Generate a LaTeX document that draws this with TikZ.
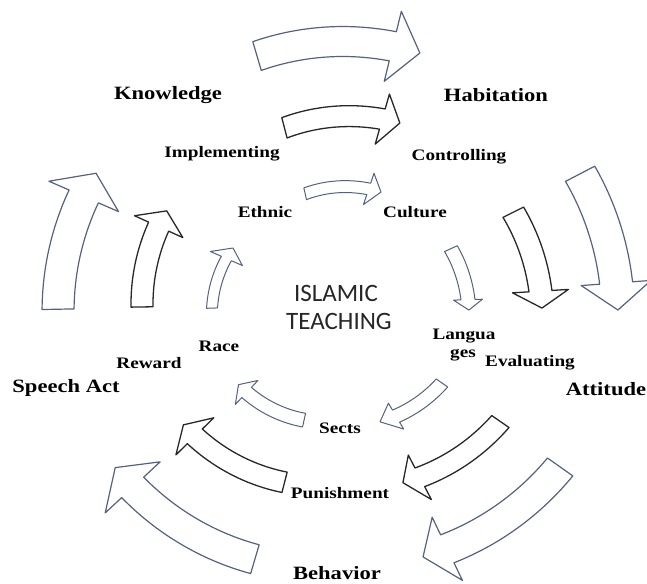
\documentclass[tikz,border=0pt]{standalone}
\usepackage{fontspec}
\newfontfamily\labelfont{Liberation Serif}[FakeStretch=1.2]
\newfontfamily\centerfont{Carlito}
\definecolor{bluegray}{RGB}{84,98,128}
\definecolor{darkline}{RGB}{40,40,40}
\newcommand{\carrow}[8]{%
  \pgfmathsetmacro{\rh}{#5+(#6-#5)*(#3-#2)/(#4-#2)}%
  \draw[#1]
    plot[domain=#2:#3,samples=30] ({330+(#5+(#6-#5)*(\x-#2)/(#4-#2)+#7/2)*cos(\x)},{304+(#5+(#6-#5)*(\x-#2)/(#4-#2)+#7/2)*sin(\x)})
    -- ({330+(\rh+#8/2)*cos(#3)},{304+(\rh+#8/2)*sin(#3)})
    -- ({330+#6*cos(#4)},{304+#6*sin(#4)})
    -- ({330+(\rh-#8/2)*cos(#3)},{304+(\rh-#8/2)*sin(#3)})
    -- plot[domain=#3:#2,samples=30] ({330+(#5+(#6-#5)*(\x-#2)/(#4-#2)-#7/2)*cos(\x)},{304+(#5+(#6-#5)*(\x-#2)/(#4-#2)-#7/2)*sin(\x)})
    -- cycle;}
\tikzset{
  outerarrow/.style={draw=bluegray, line width=1.2pt, line join=round, fill=white},
  midarrow/.style={draw=darkline, line width=1.3pt, line join=round, fill=white},
  innerarrow/.style={draw=bluegray, line width=1.0pt, line join=round, fill=white},
  outerlabel/.style={font=\labelfont\bfseries\fontsize{18.8}{21}\selectfont, text=black, inner sep=0pt},
  smalllabel/.style={font=\labelfont\bfseries\fontsize{16}{18}\selectfont, text=black, inner sep=0pt},
  centerlabel/.style={font=\centerfont\fontsize{25}{28}\selectfont, text=black!85, inner sep=0pt}
}
\begin{document}
\begin{tikzpicture}[x=1pt,y=-1pt]
\useasboundingbox[fill=white] (0,0) rectangle (647,583);
% outer ring
\carrow{outerarrow}{253.6}{283.7}{289.7}{258.5}{266.6}{30}{72}
\carrow{outerarrow}{332.5}{355.8}{361.2}{282}{288}{33}{70}
\carrow{outerarrow}{35.3}{64.4}{69.8}{282}{269.5}{31}{70}
\carrow{outerarrow}{106.4}{137.1}{142.7}{266}{270}{30}{75}
\carrow{outerarrow}{178.9}{203.6}{209.2}{272}{268}{32}{76}
% middle ring
\carrow{midarrow}{255.5}{285.8}{291.1}{182}{194}{21}{52}
\carrow{midarrow}{333.4}{356.5}{361.1}{205}{212}{23}{56}
\carrow{midarrow}{34.6}{62.6}{67.8}{207}{193}{21}{50}
\carrow{midarrow}{104.3}{135.6}{140.5}{184}{190}{21}{53}
\carrow{midarrow}{179.1}{204.3}{209.7}{188}{188}{22}{53}
% inner ring
\carrow{innerarrow}{257.3}{288.6}{294.5}{113}{123}{12}{33}
\carrow{innerarrow}{335.4}{358.2}{362.5}{133}{139}{14}{29}
\carrow{innerarrow}{35.2}{59.5}{67}{137}{128}{14}{30}
\carrow{innerarrow}{102.6}{133.3}{138.6}{119}{122}{14}{33}
\carrow{innerarrow}{178}{203.7}{210}{118}{112}{11}{35}
% labels
\node[outerlabel] (knowledge) at (168,95) {Knowledge};
\node[outerlabel] (habitation) at (496,95) {Habitation};
\node[outerlabel] (attitude) at (606,389) {Attitude};
\node[outerlabel] (behavior) at (337,573) {Behavior};
\node[outerlabel] (speech) at (66,388) {Speech Act};
\node[smalllabel] (implementing) at (222,154) {Implementing};
\node[smalllabel] (controlling) at (459,157) {Controlling};
\node[smalllabel] (evaluating) at (530,363) {Evaluating};
\node[smalllabel] (punishment) at (340,493) {Punishment};
\node[smalllabel] (reward) at (149,363) {Reward};
\node[smalllabel] (ethnic) at (265,212) {Ethnic};
\node[smalllabel] (culture) at (415,212) {Culture};
\node[smalllabel] (langua) at (464,336) {Langua};
\node[smalllabel] (ges) at (463,355) {ges};
\node[smalllabel] (sects) at (340,428) {Sects};
\node[smalllabel] (race) at (219,346) {Race};
\node[centerlabel] (islamic) at (336,293) {ISLAMIC};
\node[centerlabel] (teaching) at (339,321) {TEACHING};
\end{tikzpicture}
\end{document}
